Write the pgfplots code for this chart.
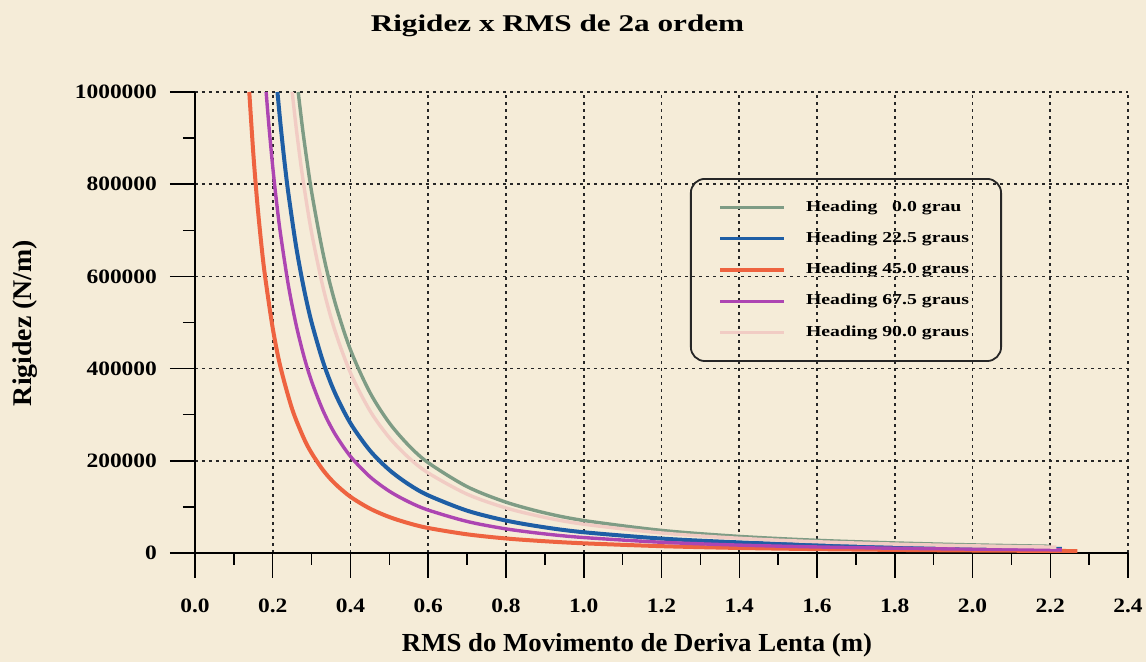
\documentclass[border=0pt]{standalone}
\usepackage{pgfplots}
\pgfplotsset{compat=1.18}
\usepackage{fontspec}
\setmainfont{Liberation Serif}
\newfontfamily\tickfont[FakeStretch=1.15]{Liberation Serif}
\newfontfamily\titlefont[FakeStretch=1.3]{Liberation Serif}
\newfontfamily\legfont[FakeStretch=1.3]{Liberation Serif}
\newfontfamily\labfont[FakeStretch=1.03]{Liberation Serif}
\definecolor{paper}{HTML}{F5ECD8}
\definecolor{cgreen}{HTML}{7E9C85}
\definecolor{cblue}{HTML}{1E5EA5}
\definecolor{cred}{HTML}{EE6340}
\definecolor{cpurple}{HTML}{AD45B2}
\definecolor{cpink}{HTML}{F1CCC4}
\begin{document}
\begin{tikzpicture}
\fill[paper] (-97.5pt,-54.5pt) rectangle (475.5pt,276.5pt);
\path[use as bounding box] (-97.5pt,-54.5pt) rectangle (475.5pt,276.5pt);
\begin{axis}[
  width=466.5pt, height=230.5pt, scale only axis,
  xmin=0, xmax=2.4, ymin=0, ymax=1000000,
  axis lines=left, axis line style={-, black, line width=0.75pt},
  xtick={0,0.2,0.4,0.6,0.8,1.0,1.2,1.4,1.6,1.8,2.0,2.2,2.4},
  ytick={0,200000,400000,600000,800000,1000000},
  minor x tick num=1, minor y tick num=1,
  tick align=outside, major tick length=12.5pt, minor tick length=6pt,
  tick style={black, line width=0.75pt},
  grid=major, grid style={black!85, line width=0.8pt, dash pattern=on 1.3pt off 2.2pt},
  scaled ticks=false,
  /pgf/number format/assume math mode=true,
  xticklabel style={font=\tickfont\bfseries\fontsize{10.2}{12}\selectfont, yshift=-7pt, /pgf/number format/.cd, fixed, fixed zerofill, precision=1},
  yticklabel style={font=\tickfont\bfseries\fontsize{10.2}{12}\selectfont, xshift=-3pt, /pgf/number format/.cd, fixed, 1000 sep={}},
  legend style={at={(rel axis cs:0.5305,0.8134)}, anchor=north west, draw=black!85, line width=0.9pt, rounded corners=7pt, fill=none,
    font=\legfont\bfseries\fontsize{7.6}{8.5}\selectfont, inner xsep=14pt, inner ysep=9pt, row sep=4.8pt,
    /tikz/every odd column/.append style={column sep=8pt}},
  legend cell align=left,
  legend image code/.code={\draw[#1, line width=1.6pt, sharp corners] (0pt,0pt) -- (32pt,0pt);},
  no marks,
]
\addplot[cgreen, line width=1.7pt, smooth] coordinates {
(0.2655,1000000) (0.27,967300) (0.28,899200) (0.30,783300) (0.33,647400) (0.36,544000)
(0.40,440600) (0.45,348100) (0.50,282000) (0.55,233100) (0.60,195800) (0.70,143900)
(0.80,110200) (0.90,87000) (1.00,70500) (1.20,49000) (1.40,36000) (1.60,27500)
(1.80,21800) (2.00,17600) (2.20,14600)};
\addlegendentry{Heading \phantom{2}0.0 grau}
\addplot[cblue, line width=2pt, smooth] coordinates {
(0.2121,1000000) (0.22,929700) (0.23,850500) (0.24,781200) (0.26,665600) (0.28,574000)
(0.30,500000) (0.33,413200) (0.36,347200) (0.40,281300) (0.45,222200) (0.50,180000)
(0.55,148800) (0.60,125000) (0.70,91800) (0.80,70300) (0.90,55600) (1.00,45000)
(1.20,31300) (1.40,23000) (1.60,17600) (1.80,13900) (2.00,11250) (2.20,9300) (2.23,9050)};
\addlegendentry{Heading 22.5 graus}
\addplot[cred, line width=2pt, smooth] coordinates {
(0.1396,1000000) (0.15,866700) (0.16,761700) (0.17,674700) (0.18,601800) (0.20,487500)
(0.22,402900) (0.25,312000) (0.28,248700) (0.30,216700) (0.33,179100) (0.36,150500)
(0.40,121900) (0.45,96300) (0.50,78000) (0.55,64500) (0.60,54200) (0.70,40500)
(0.80,31500) (0.90,25500) (1.00,21000) (1.20,14800) (1.40,10900) (1.60,8400)
(1.80,6700) (2.00,5400) (2.20,4500) (2.27,4200)};
\addlegendentry{Heading 45.0 graus}
\addplot[cpurple, line width=1.7pt, smooth] coordinates {
(0.183,1000000) (0.19,928000) (0.20,837500) (0.21,759800) (0.22,692100) (0.24,581600)
(0.26,495500) (0.28,427300) (0.30,372200) (0.33,307600) (0.36,258500) (0.40,209400)
(0.45,165400) (0.50,134000) (0.55,110800) (0.60,93100) (0.70,68400) (0.80,52300)
(0.90,41400) (1.00,33500) (1.20,23300) (1.40,17100) (1.60,13100) (1.80,10300)
(2.00,8380) (2.20,6920) (2.23,6740)};
\addlegendentry{Heading 67.5 graus}
\addplot[cpink, line width=1.7pt, smooth] coordinates {
(0.25,1000000) (0.26,924400) (0.27,857500) (0.28,797200) (0.30,694400) (0.33,573900)
(0.36,482300) (0.40,390600) (0.45,308600) (0.50,250000) (0.55,206600) (0.60,173600)
(0.70,127600) (0.80,97700) (0.90,77200) (1.00,62500) (1.20,43400) (1.40,31900)
(1.60,24400) (1.80,19300) (2.00,15600) (2.20,12900) (2.21,12800)};
\addlegendentry{Heading 90.0 graus}
\end{axis}
\node[font=\titlefont\bfseries\fontsize{12}{14}\selectfont] at (181.25pt,263.5pt) {Rigidez x RMS de 2a ordem};
\node[font=\labfont\bfseries\fontsize{13}{15}\selectfont] at (221pt,-46pt) {RMS do Movimento de Deriva Lenta (m)};
\node[font=\labfont\bfseries\fontsize{13.5}{15}\selectfont, rotate=90] at (-85pt,115pt) {Rigidez (N/m)};
\end{tikzpicture}
\end{document}
